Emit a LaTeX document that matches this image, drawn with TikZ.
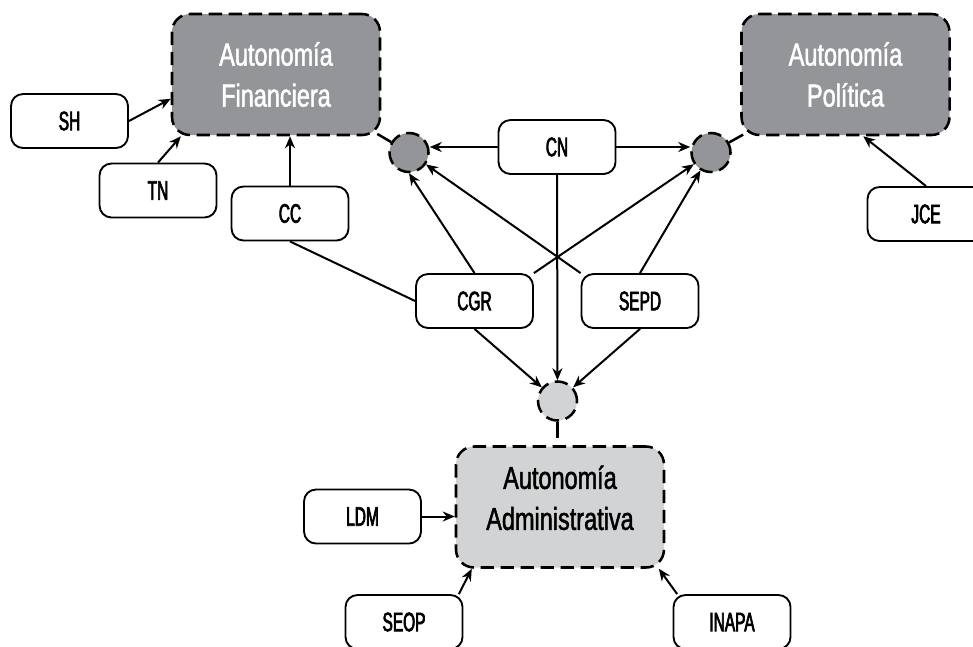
\documentclass[tikz,border=0pt]{standalone}
\usepackage{fontspec}
\setmainfont{Liberation Sans}
\newfontfamily\boxfont[FakeStretch=0.58,FakeBold=2.5]{Liberation Sans}
\newfontfamily\autfont[FakeStretch=0.74,FakeBold=1.5]{Liberation Sans}
\usetikzlibrary{arrows.meta}
\definecolor{darkfill}{RGB}{147,149,152}
\definecolor{lightfill}{RGB}{209,211,212}

\begin{document}
\begin{tikzpicture}[x=0.75pt,y=-0.75pt,
  agent/.style={draw,line width=1.4pt,rounded corners=9pt,fill=white,
    minimum width=87.75pt,minimum height=40.5pt,inner sep=0pt,
    font=\boxfont\fontsize{20}{22}\selectfont},
  autonomy/.style={draw,line width=1.9pt,dash pattern=on 10pt off 5pt,
    rounded corners=13.5pt,minimum width=156pt,minimum height=90.75pt,
    inner sep=0pt,align=center,
    font=\autfont\fontsize{23.8}{30.75}\selectfont},
  hub/.style={circle,draw,line width=1.9pt,dash pattern=on 10pt off 5pt,
    minimum size=29.25pt,inner sep=0pt},
  arr/.style={-{Stealth[length=9pt,width=7.5pt]},line width=1.5pt},
  link/.style={line width=1.9pt,dash pattern=on 12pt off 7pt}]
   \useasboundingbox (0,0) rectangle (973,646);
   \node[autonomy,fill=darkfill,text=white] (Fin) at (276,74.5) {Autonomía\\Financiera};
   \node[autonomy,fill=darkfill,text=white] (Pol) at (845.5,74.5) {Autonomía\\Política};
   \node[autonomy,fill=lightfill,text depth=14pt] (Adm) at (560,507) {Autonomía\\Administrativa};
   \node[hub,fill=darkfill] (FinHub) at (409,152.5) {};
   \node[hub,fill=darkfill] (PolHub) at (711,152.5) {};
   \node[hub,fill=lightfill] (AdmHub) at (557.5,401) {};
   \foreach \t/\x/\y in {SH/69.5/121,TN/158/190.5,CC/290/213.5,CN/557/147,
      CGR/474.5/301,SEPD/640/301,JCE/926/214,LDM/362.5/516.5,
      SEOP/404/622,INAPA/732/622} {
    \node[agent] (\t) at (\x,\y) {\t};
   }
   \draw[link,shorten >=-5pt] (FinHub) -- (Fin.south east);
   \draw[link,shorten >=-5pt] (PolHub) -- (Pol.south west);
   \draw[link] (AdmHub.south) -- (AdmHub.south |- Adm.north);
   \draw[arr] (SH.east) -- (Fin.193);
   \draw[arr] (TN.north) -- (Fin.213);
   \draw[arr] (CC.north) -- (CC.north |- Fin.south);
   \draw[line width=1.5pt] (CC.south) -- (CGR.west);
   \draw[arr] (CN.west) -- (CN.west -| FinHub.east);
   \draw[arr] (CN.east) -- (CN.east -| PolHub.west);
   \draw[arr] (CN) -- (AdmHub);
   \draw[arr] (CGR.north) -- (FinHub.south);
   \draw[arr] (CGR.north east) -- (PolHub);
   \draw[arr] (SEPD.north west) -- (FinHub);
   \draw[arr] (SEPD.north) -- (PolHub);
   \draw[arr] (CGR.south) -- (AdmHub);
   \draw[arr] (SEPD.south) -- (AdmHub);
   \draw[arr] (JCE.north) -- (Pol.286);
   \draw[arr] (LDM.east) -- (LDM.east -| Adm.west);
   \draw[arr] (SEOP.27) -- (Adm.215);
   \draw[arr] (INAPA.153) -- (Adm.328);
\end{tikzpicture}
\end{document}
